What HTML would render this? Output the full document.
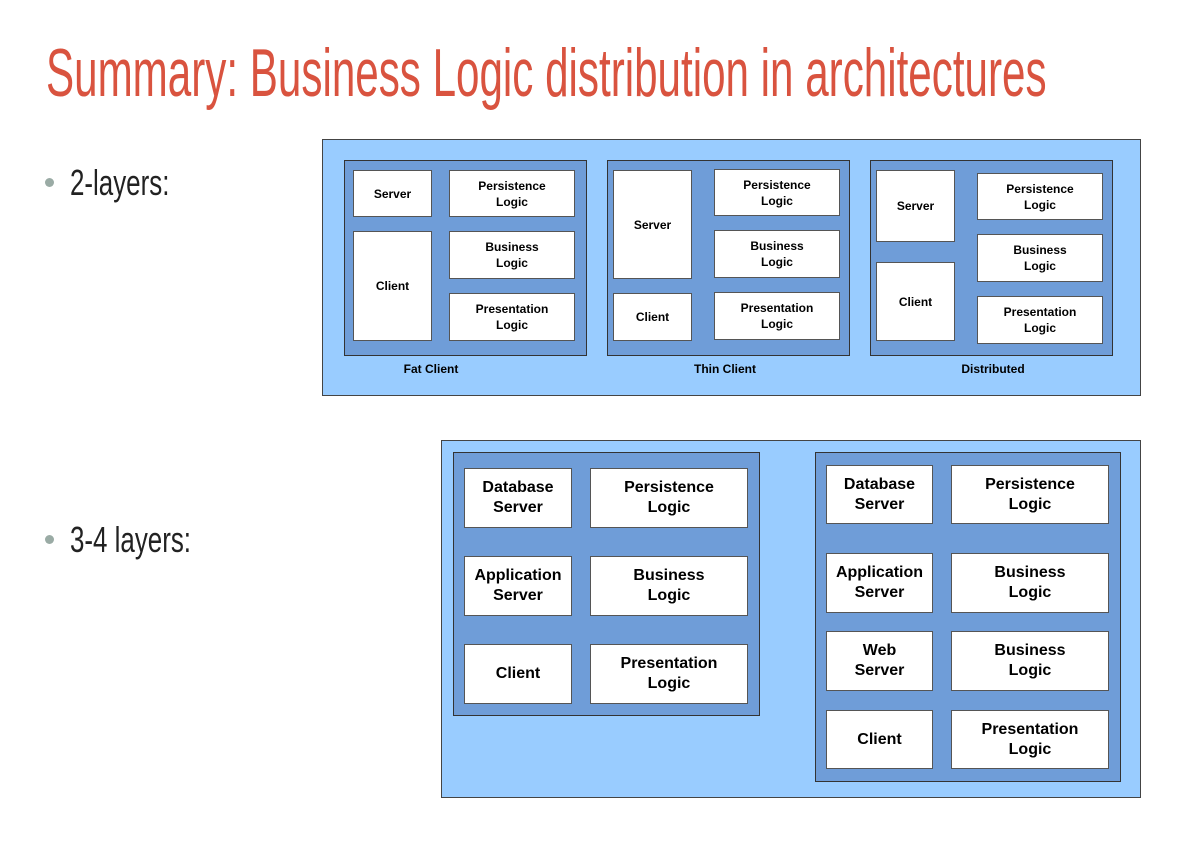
<!DOCTYPE html>
<html><head><meta charset="utf-8"><style>
body{margin:0;width:1202px;height:846px;background:#fff;position:relative;overflow:hidden;font-family:"Liberation Sans",sans-serif}
.a{position:absolute;box-sizing:border-box}
.o{background:#99ccff;border:1px solid #444}
.p{background:#6f9dd8;border:1px solid #333}
.b{background:#fff;border:1px solid #555;display:flex;align-items:center;justify-content:center;text-align:center;font-weight:bold;font-size:12px;line-height:16px;color:#000}
.L{font-size:16px;line-height:20px}
.lb{font-weight:bold;font-size:12px;transform:translateX(-50%)}
.t{font-family:"Liberation Sans Narrow","Liberation Sans",sans-serif;transform-origin:0 0;white-space:nowrap}
</style></head><body>
<div class="a t" style="left:46px;top:34px;font-size:68px;color:#d9533f;transform:scaleX(0.62)">Summary: Business Logic distribution in architectures</div>
<div class="a" style="left:45px;top:178px;width:9px;height:9px;border-radius:50%;background:#9aaba5"></div>
<div class="a t" style="left:70px;top:162px;font-size:36px;color:#222;transform:scaleX(0.72)">2-layers:</div>
<div class="a" style="left:45px;top:535px;width:9px;height:9px;border-radius:50%;background:#9aaba5"></div>
<div class="a t" style="left:70px;top:519px;font-size:36px;color:#222;transform:scaleX(0.72)">3-4 layers:</div>

<div class="a o" style="left:322px;top:139px;width:819px;height:257px"></div>
<div class="a p" style="left:344px;top:160px;width:243px;height:196px"></div>
<div class="a b" style="left:353px;top:170px;width:79px;height:47px">Server</div>
<div class="a b" style="left:353px;top:231px;width:79px;height:110px">Client</div>
<div class="a b" style="left:449px;top:170px;width:126px;height:47px">Persistence<br>Logic</div>
<div class="a b" style="left:449px;top:231px;width:126px;height:48px">Business<br>Logic</div>
<div class="a b" style="left:449px;top:293px;width:126px;height:48px">Presentation<br>Logic</div>
<div class="a lb" style="left:431px;top:362px">Fat Client</div>

<div class="a p" style="left:607px;top:160px;width:243px;height:196px"></div>
<div class="a b" style="left:613px;top:170px;width:79px;height:109px">Server</div>
<div class="a b" style="left:613px;top:293px;width:79px;height:48px">Client</div>
<div class="a b" style="left:714px;top:169px;width:126px;height:47px">Persistence<br>Logic</div>
<div class="a b" style="left:714px;top:230px;width:126px;height:48px">Business<br>Logic</div>
<div class="a b" style="left:714px;top:292px;width:126px;height:48px">Presentation<br>Logic</div>
<div class="a lb" style="left:725px;top:362px">Thin Client</div>

<div class="a p" style="left:870px;top:160px;width:243px;height:196px"></div>
<div class="a b" style="left:876px;top:170px;width:79px;height:72px">Server</div>
<div class="a b" style="left:876px;top:262px;width:79px;height:79px">Client</div>
<div class="a b" style="left:977px;top:173px;width:126px;height:47px">Persistence<br>Logic</div>
<div class="a b" style="left:977px;top:234px;width:126px;height:48px">Business<br>Logic</div>
<div class="a b" style="left:977px;top:296px;width:126px;height:48px">Presentation<br>Logic</div>
<div class="a lb" style="left:993px;top:362px">Distributed</div>

<div class="a o" style="left:441px;top:440px;width:700px;height:358px"></div>
<div class="a p" style="left:453px;top:452px;width:307px;height:264px"></div>
<div class="a b L" style="left:464px;top:468px;width:108px;height:60px">Database<br>Server</div>
<div class="a b L" style="left:590px;top:468px;width:158px;height:60px">Persistence<br>Logic</div>
<div class="a b L" style="left:464px;top:556px;width:108px;height:60px">Application<br>Server</div>
<div class="a b L" style="left:590px;top:556px;width:158px;height:60px">Business<br>Logic</div>
<div class="a b L" style="left:464px;top:644px;width:108px;height:60px">Client</div>
<div class="a b L" style="left:590px;top:644px;width:158px;height:60px">Presentation<br>Logic</div>

<div class="a p" style="left:815px;top:452px;width:306px;height:330px"></div>
<div class="a b L" style="left:826px;top:465px;width:107px;height:59px">Database<br>Server</div>
<div class="a b L" style="left:951px;top:465px;width:158px;height:59px">Persistence<br>Logic</div>
<div class="a b L" style="left:826px;top:553px;width:107px;height:60px">Application<br>Server</div>
<div class="a b L" style="left:951px;top:553px;width:158px;height:60px">Business<br>Logic</div>
<div class="a b L" style="left:826px;top:631px;width:107px;height:60px">Web<br>Server</div>
<div class="a b L" style="left:951px;top:631px;width:158px;height:60px">Business<br>Logic</div>
<div class="a b L" style="left:826px;top:710px;width:107px;height:59px">Client</div>
<div class="a b L" style="left:951px;top:710px;width:158px;height:59px">Presentation<br>Logic</div>
</body></html>
